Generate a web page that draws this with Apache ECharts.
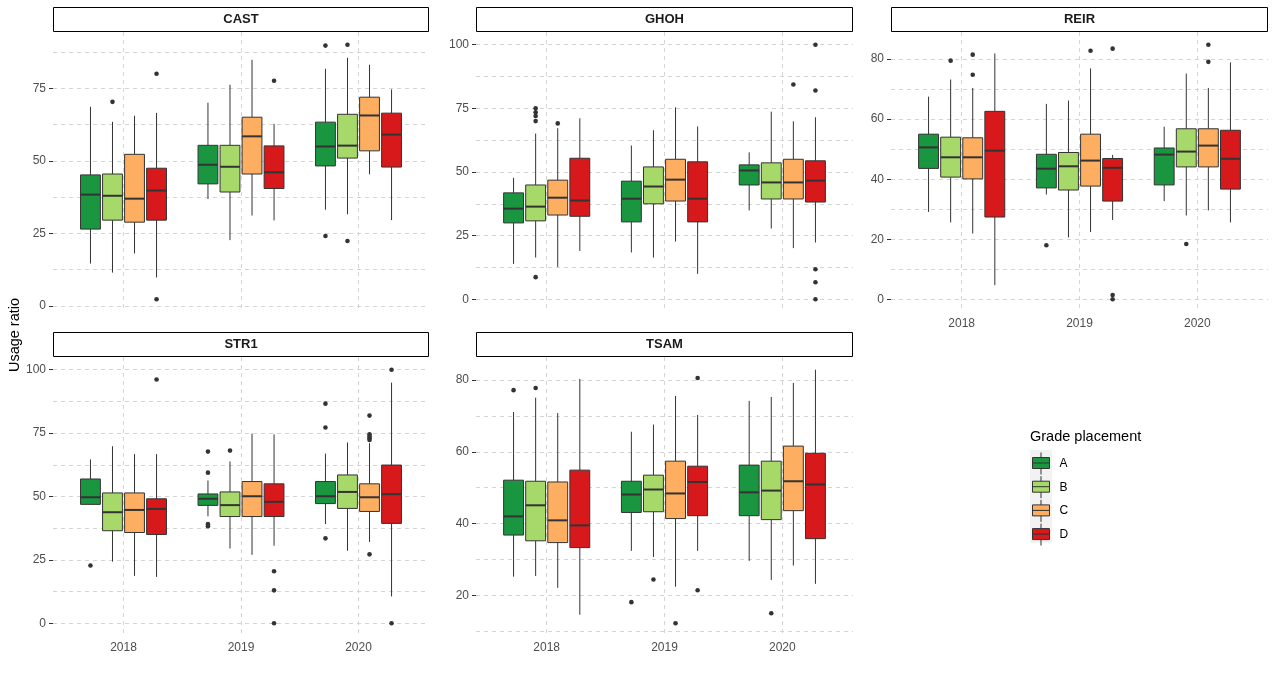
<!DOCTYPE html>
<html>
<head>
<meta charset="utf-8">
<script src="https://cdn.jsdelivr.net/npm/echarts@6/dist/echarts.min.js"></script>
<style>
html, body { margin: 0; padding: 0; background: #fff; }
#main { width: 1275px; height: 681px; }
</style>
</head>
<body>
<div id="main"></div>
<script>
var years = ['2018', '2019', '2020'];
var grades = ['A', 'B', 'C', 'D'];

// box stats per year: [lower whisker, Q1, median, Q3, upper whisker]
// CAST
var castA = [[14.6, 26.5, 38.4, 45.2, 68.7], [36.9, 42.1, 48.7, 55.4, 70.1], [33.2, 48.3, 55.0, 63.4, 81.8]];
var castB = [[11.5, 29.6, 38.0, 45.5, 63.5], [22.7, 39.3, 48.0, 55.4, 76.3], [31.6, 51.0, 55.3, 66.1, 85.6]];
var castC = [[18.1, 28.9, 37.0, 52.3, 65.6], [31.2, 45.5, 58.5, 65.1, 84.9], [45.4, 53.5, 65.7, 72.0, 83.2]];
var castD = [[9.8, 29.6, 39.8, 47.5, 66.6], [29.5, 40.5, 46.1, 55.2, 62.8], [29.6, 47.9, 59.1, 66.5, 74.7]];
var castOut = [['2018', 'B', 70.4], ['2018', 'D', 80.1], ['2018', 'D', 2.3], ['2019', 'D', 77.7],
    ['2020', 'A', 89.8], ['2020', 'A', 24.1], ['2020', 'B', 90.1], ['2020', 'B', 22.4]];
var castTicks = [0, 25, 50, 75];

// GHOH
var ghohA = [[13.9, 30.0, 35.6, 41.8, 47.7], [18.4, 30.4, 39.5, 46.4, 60.4], [34.9, 44.9, 50.6, 52.8, 57.7]];
var ghohB = [[16.4, 30.8, 36.4, 44.9, 65.1], [16.4, 37.5, 44.3, 52.0, 66.4], [27.8, 39.4, 45.9, 53.6, 73.7]];
var ghohC = [[12.7, 33.1, 39.9, 46.8, 67.2], [22.7, 38.6, 47.0, 55.0, 75.4], [20.1, 39.4, 45.9, 55.0, 69.9]];
var ghohD = [[19.0, 32.6, 38.8, 55.4, 71.1], [10.0, 30.4, 39.5, 54.0, 67.9], [22.3, 38.2, 46.6, 54.4, 71.5]];
var ghohOut = [['2018', 'B', 75.0], ['2018', 'B', 73.5], ['2018', 'B', 72.0], ['2018', 'B', 70.0], ['2018', 'B', 8.7],
    ['2018', 'C', 69.1], ['2020', 'C', 84.4], ['2020', 'D', 100], ['2020', 'D', 82.0], ['2020', 'D', 11.8],
    ['2020', 'D', 6.7], ['2020', 'D', 0]];
var ghohTicks = [0, 25, 50, 75, 100];

// REIR
var reirA = [[29.1, 43.6, 50.6, 55.0, 67.5], [34.9, 37.1, 43.5, 48.3, 65.1], [32.7, 38.1, 48.2, 50.4, 57.5]];
var reirB = [[25.6, 40.7, 47.3, 54.0, 73.2], [20.6, 36.4, 44.3, 48.9, 66.2], [27.9, 44.1, 49.2, 56.8, 75.2]];
var reirC = [[21.9, 40.1, 47.3, 53.8, 70.4], [22.4, 37.7, 46.2, 55.0, 76.9], [29.6, 44.1, 51.2, 56.8, 70.4]];
var reirD = [[4.7, 27.4, 49.5, 62.6, 81.9], [26.4, 32.7, 43.8, 46.9, 48.1], [25.6, 36.7, 46.8, 56.3, 78.9]];
var reirOut = [['2018', 'B', 79.5], ['2018', 'C', 81.5], ['2018', 'C', 74.8], ['2019', 'A', 18.0], ['2019', 'C', 82.8],
    ['2019', 'D', 83.5], ['2019', 'D', 1.4], ['2019', 'D', 0], ['2020', 'B', 18.4], ['2020', 'C', 84.8], ['2020', 'C', 79.1]];
var reirTicks = [0, 20, 40, 60, 80];

// STR1
var str1A = [[46.9, 46.9, 49.7, 56.9, 64.6], [42.2, 46.5, 49.1, 51.0, 56.3], [39.1, 47.2, 50.1, 55.9, 66.9]];
var str1B = [[24.3, 36.5, 43.8, 51.4, 69.8], [29.5, 42.1, 46.6, 51.8, 63.8], [28.6, 45.3, 51.8, 58.5, 71.3]];
var str1C = [[18.7, 35.8, 44.7, 51.4, 66.7], [27.0, 42.1, 50.1, 55.9, 74.8], [32.1, 44.1, 49.7, 55.0, 71.0]];
var str1D = [[18.3, 35.0, 45.1, 49.1, 66.7], [30.6, 42.1, 47.9, 55.0, 74.5], [10.6, 39.4, 50.9, 62.4, 94.9]];
var str1Out = [['2018', 'A', 22.8], ['2018', 'D', 96.1], ['2019', 'A', 67.7], ['2019', 'A', 59.4], ['2019', 'A', 39.1],
    ['2019', 'A', 38.3], ['2019', 'B', 68.1], ['2019', 'D', 20.5], ['2019', 'D', 13.0], ['2019', 'D', 0],
    ['2020', 'A', 86.6], ['2020', 'A', 77.2], ['2020', 'A', 33.5], ['2020', 'C', 81.9], ['2020', 'C', 74.5],
    ['2020', 'C', 73.7], ['2020', 'C', 73.0], ['2020', 'C', 72.3], ['2020', 'C', 27.2], ['2020', 'D', 100], ['2020', 'D', 0]];
var str1Ticks = [0, 25, 50, 75, 100];

// TSAM
var tsamA = [[25.2, 36.8, 42.0, 52.1, 71.1], [32.4, 43.1, 48.1, 51.8, 65.6], [29.6, 42.2, 48.7, 56.3, 74.2]];
var tsamB = [[25.4, 35.2, 45.1, 51.8, 75.1], [30.7, 43.3, 49.5, 53.5, 67.6], [24.3, 41.1, 49.2, 57.4, 75.3]];
var tsamC = [[22.1, 34.7, 40.9, 51.6, 70.8], [22.4, 41.4, 48.4, 57.4, 75.6], [28.3, 43.6, 51.8, 61.6, 79.2]];
var tsamD = [[14.6, 33.3, 39.5, 54.9, 80.3], [32.4, 42.2, 51.6, 56.0, 70.3], [23.2, 35.8, 50.9, 59.6, 82.9]];
var tsamOut = [['2018', 'A', 77.2], ['2018', 'B', 77.8], ['2019', 'A', 18.1], ['2019', 'B', 24.4], ['2019', 'C', 12.2],
    ['2019', 'D', 80.6], ['2019', 'D', 21.4], ['2020', 'B', 15.0]];
var tsamTicks = [20, 40, 60, 80];

var colors = ['#1a9641', '#a6d96a', '#fdae61', '#d7191c'];
var font = "'Liberation Sans', Arial, sans-serif";
var gridColor = '#d4d4d4';

//面板布局
var panels = [
    {name: 'CAST', boxes: [castA, castB, castC, castD], out: castOut, ticks: castTicks, left: 53, top: 32, width: 376, height: 280, xLabels: false},
    {name: 'GHOH', boxes: [ghohA, ghohB, ghohC, ghohD], out: ghohOut, ticks: ghohTicks, left: 476, top: 32, width: 377, height: 280, xLabels: false},
    {name: 'REIR', boxes: [reirA, reirB, reirC, reirD], out: reirOut, ticks: reirTicks, left: 891, top: 32, width: 377, height: 280, xLabels: true},
    {name: 'STR1', boxes: [str1A, str1B, str1C, str1D], out: str1Out, ticks: str1Ticks, left: 53, top: 357, width: 376, height: 279, xLabels: true},
    {name: 'TSAM', boxes: [tsamA, tsamB, tsamC, tsamD], out: tsamOut, ticks: tsamTicks, left: 476, top: 357, width: 377, height: 279, xLabels: true}
];

// y range like ggplot: data range plus 5% each side
function yRange(p) {
    var lo = Infinity, hi = -Infinity;
    p.boxes.forEach(function (g) {
        g.forEach(function (b) { lo = Math.min(lo, b[0]); hi = Math.max(hi, b[4]); });
    });
    p.out.forEach(function (o) { lo = Math.min(lo, o[2]); hi = Math.max(hi, o[2]); });
    var pad = (hi - lo) * 0.05;
    return [lo - pad, hi + pad];
}

// major + minor grid lines
function gridLines(ticks, r) {
    var half = (ticks[1] - ticks[0]) / 2, res = [];
    for (var k = Math.ceil(r[0] / half); k * half <= r[1]; k++) {
        res.push(k * half + 0);
    }
    return res;
}

function xCenter(api, x, g) {
    var unit = api.coord([2, 0])[0] - api.coord([1, 0])[0];
    return {cx: api.coord([x, 0])[0] + (g - 1.5) * 0.1875 * unit, unit: unit};
}

function boxRenderer(g) {
    return function (params, api) {
        var x = api.value(0);
        var c = xCenter(api, x, g);
        var cx = c.cx;
        var hw = 0.1875 * c.unit * 0.9 / 2;
        var yLo = api.coord([x, api.value(1)])[1];
        var yQ1 = api.coord([x, api.value(2)])[1];
        var yMed = api.coord([x, api.value(3)])[1];
        var yQ3 = api.coord([x, api.value(4)])[1];
        var yHi = api.coord([x, api.value(5)])[1];
        return {
            type: 'group',
            children: [
                {type: 'line', shape: {x1: cx, y1: yHi, x2: cx, y2: yQ3}, style: {stroke: '#333', lineWidth: 1}},
                {type: 'line', shape: {x1: cx, y1: yQ1, x2: cx, y2: yLo}, style: {stroke: '#333', lineWidth: 1}},
                {type: 'rect', shape: {x: cx - hw, y: yQ3, width: 2 * hw, height: yQ1 - yQ3},
                    style: {fill: api.visual('color'), stroke: '#333', lineWidth: 1}},
                {type: 'line', shape: {x1: cx - hw, y1: yMed, x2: cx + hw, y2: yMed}, style: {stroke: '#333', lineWidth: 2}}
            ]
        };
    };
}

function outlierRenderer(params, api) {
    var x = api.value(0);
    var c = xCenter(api, x, api.value(2));
    var p = api.coord([x, api.value(1)]);
    return {type: 'circle', shape: {cx: c.cx, cy: p[1], r: 2.3}, style: {fill: '#333'}};
}

var grid = [], xAxis = [], yAxis = [], series = [], graphic = [];

panels.forEach(function (p, i) {
    var r = yRange(p);
    grid.push({left: p.left, top: p.top, width: p.width, height: p.height});
    xAxis.push({
        type: 'value', gridIndex: i, min: 0.4, max: 3.6,
        axisLine: {show: false},
        axisTick: {show: false, customValues: [1, 2, 3]},
        splitLine: {show: true, lineStyle: {color: gridColor, type: [4, 4], width: 1}},
        axisLabel: {
            show: p.xLabels, customValues: [1, 2, 3], margin: 6,
            color: '#4d4d4d', fontSize: 12, fontFamily: font,
            formatter: function (v) { return years[Math.round(v) - 1]; }
        }
    });
    // axis for the dashed grid lines
    yAxis.push({
        type: 'value', gridIndex: i, min: r[0], max: r[1], position: 'left',
        axisLine: {show: false},
        axisTick: {show: false, customValues: gridLines(p.ticks, r)},
        axisLabel: {show: false},
        splitLine: {show: true, lineStyle: {color: gridColor, type: [4, 4], width: 1}}
    });
    // axis for the labels and ticks
    yAxis.push({
        type: 'value', gridIndex: i, min: r[0], max: r[1], position: 'left',
        axisLine: {show: false},
        axisTick: {show: true, length: 4, customValues: p.ticks, lineStyle: {color: '#333'}},
        axisLabel: {customValues: p.ticks, margin: 7, color: '#4d4d4d', fontSize: 12, fontFamily: font},
        splitLine: {show: false}
    });

    grades.forEach(function (gName, g) {
        series.push({
            type: 'custom', name: gName, xAxisIndex: i, yAxisIndex: i * 2,
            itemStyle: {color: colors[g]},
            renderItem: boxRenderer(g),
            encode: {x: 0, y: [1, 2, 3, 4, 5]},
            data: p.boxes[g].map(function (b, yi) { return [yi + 1].concat(b); })
        });
    });
    series.push({
        type: 'custom', name: 'outliers', xAxisIndex: i, yAxisIndex: i * 2,
        renderItem: outlierRenderer,
        encode: {x: 0, y: 1},
        data: p.out.map(function (o) {
            return [years.indexOf(o[0]) + 1, o[2], grades.indexOf(o[1])];
        })
    });

    // strip
    graphic.push({
        type: 'rect', shape: {x: p.left + 0.5, y: p.top - 24.5, width: p.width - 1, height: 24},
        style: {fill: '#fff', stroke: '#000', lineWidth: 1}
    });
    graphic.push({
        type: 'text', x: p.left + p.width / 2, y: p.top - 12.5,
        style: {text: p.name, align: 'center', verticalAlign: 'middle', fill: '#1a1a1a',
            font: 'bold 13px ' + font}
    });
});

graphic.push({
    type: 'text', x: 15, y: 335, rotation: Math.PI / 2,
    style: {text: 'Usage ratio', align: 'center', verticalAlign: 'middle', fill: '#000', font: '14.5px ' + font}
});
graphic.push({
    type: 'text', x: 1030, y: 437,
    style: {text: 'Grade placement', align: 'left', verticalAlign: 'middle', fill: '#000', font: '14.5px ' + font}
});
graphic.push({
    type: 'rect', shape: {x: 1030, y: 450, width: 22, height: 93}, style: {fill: '#f2f2f2'}, z: -1
});

var myChart = echarts.init(document.getElementById('main'));
myChart.setOption({
    animation: false,
    backgroundColor: '#fff',
    grid: grid,
    xAxis: xAxis,
    yAxis: yAxis,
    series: series,
    graphic: graphic,
    legend: {
        data: grades, orient: 'vertical', left: 1032, top: 452,
        itemWidth: 17, itemHeight: 22, itemGap: 0.7, padding: 0,
        icon: 'path://M8.5,0L8.5,5M0,5L17,5L17,16L0,16ZM0,10.5L17,10.5M8.5,16L8.5,22',
        itemStyle: {borderColor: '#333', borderWidth: 1},
        textStyle: {fontSize: 12, color: '#000', fontFamily: font, padding: [0, 0, 0, 5]}
    }
});
</script>
</body>
</html>
